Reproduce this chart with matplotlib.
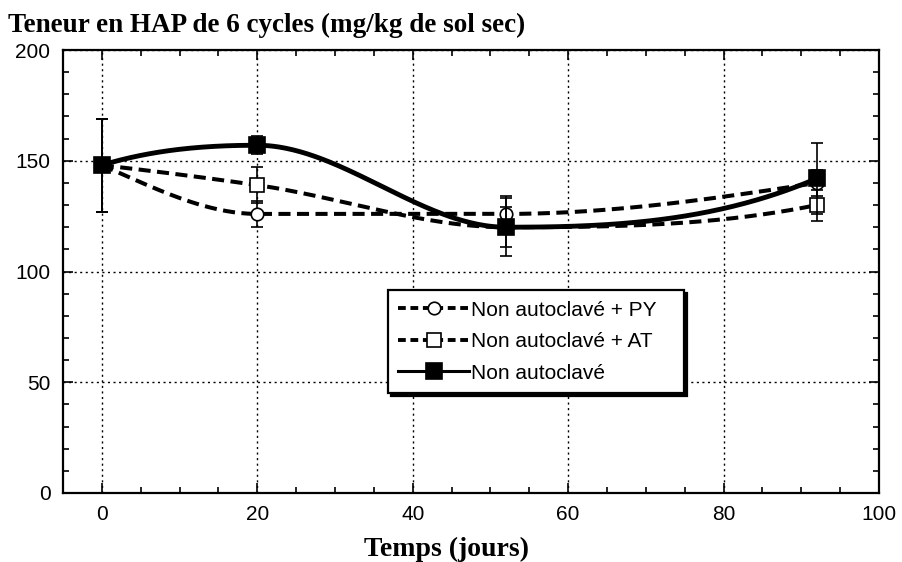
import numpy as np
import matplotlib.pyplot as plt
from matplotlib.ticker import MultipleLocator

# sampling days
days = [0, 20, 52, 92]

# HAP 6 cycles content (mg/kg)
py_vals = [148, 126, 126, 140]
at_vals = [148, 139, 120, 130]
non_vals = [148, 157, 120, 142]

# error bars (half width)
py_err = [21, 6, 8, 6]
at_err = [21, 8, 9, 7]
non_err = [21, 4, 13, 16]


def smooth(x, y, n=300):
    # monotone piecewise cubic (pchip) through the measured points
    x = np.asarray(x, float)
    y = np.asarray(y, float)
    h = np.diff(x)
    d = np.diff(y) / h
    k = len(x)
    m = np.zeros(k)
    for i in range(1, k - 1):
        if d[i - 1] * d[i] > 0:
            w1 = 2 * h[i] + h[i - 1]
            w2 = h[i] + 2 * h[i - 1]
            m[i] = (w1 + w2) / (w1 / d[i - 1] + w2 / d[i])
    for i, a, b in [(0, 0, 1), (k - 1, k - 2, k - 3)]:
        hi, ho = h[a], h[b]
        di, do = d[a], d[b]
        s = ((2 * hi + ho) * di - hi * do) / (hi + ho)
        if s * di <= 0:
            s = 0
        elif di * do < 0 and abs(s) > 3 * abs(di):
            s = 3 * di
        m[i] = s
    xs = np.linspace(x[0], x[-1], n)
    idx = np.clip(np.searchsorted(x, xs) - 1, 0, k - 2)
    hh = h[idx]
    t = (xs - x[idx]) / hh
    ys = (2 * t**3 - 3 * t**2 + 1) * y[idx] + (t**3 - 2 * t**2 + t) * hh * m[idx] \
        + (-2 * t**3 + 3 * t**2) * y[idx + 1] + (t**3 - t**2) * hh * m[idx + 1]
    return xs, ys


plt.rcParams['font.family'] = ['Liberation Sans', 'DejaVu Sans']

fig = plt.figure(figsize=(9.02, 5.62), dpi=100)
ax = fig.add_axes([0.0698, 0.1228, 0.9047, 0.7882])

series = [
    (py_vals, py_err, 'o', 'white', (3, 1.6), 'Non autoclavé + PY   ', 9, 3),
    (at_vals, at_err, 's', 'white', (3, 1.6), 'Non autoclavé + AT', 10, 4),
    (non_vals, non_err, 's', 'black', None, 'Non autoclavé', 11, 5),
]

handles = []
for vals, err, mk, fc, dash, label, ms, z in series:
    xs, ys = smooth(days, vals)
    if dash:
        ax.plot(xs, ys, color='black', lw=2.9, dashes=dash, zorder=z)
    else:
        ax.plot(xs, ys, color='black', lw=3.5, zorder=z)
    ax.errorbar(days, vals, yerr=err, fmt='none', ecolor='black',
                elinewidth=1.2, capsize=4, capthick=1.2, zorder=z)
    ax.plot(days, vals, ls='none', marker=mk, ms=ms, mfc=fc, mec='black',
            mew=1.2, zorder=z + 0.5)
    h, = ax.plot([], [], color='black', lw=2.8 if dash else 2.2,
                 marker=mk, ms=ms, mfc=fc, mec='black', mew=1.2)
    if dash:
        h.set_dashes((2, 1.2))
    handles.append(h)

ax.set_xlim(-5, 100)
ax.set_ylim(0, 200)
ax.xaxis.set_major_locator(MultipleLocator(20))
ax.xaxis.set_minor_locator(MultipleLocator(5))
ax.yaxis.set_major_locator(MultipleLocator(50))
ax.yaxis.set_minor_locator(MultipleLocator(10))
ax.tick_params(which='both', direction='in', top=True, right=True,
               width=1.2, labelsize=15, pad=9)
ax.tick_params(which='major', length=7)
ax.tick_params(which='minor', length=4)
ax.grid(which='major', ls=(0, (1.5, 2.5)), color='black', lw=1)
for s in ax.spines.values():
    s.set_linewidth(1.6)

leg = ax.legend(handles, [s[5] for s in series], loc='upper left',
                bbox_to_anchor=(0.398, 0.458), borderaxespad=0,
                fontsize=15, fancybox=False,
                edgecolor='black', framealpha=1, handlelength=3.4,
                handletextpad=0.1, borderpad=0.5, labelspacing=0.6,
                shadow={'color': 'black', 'alpha': 1})
leg.get_frame().set_linewidth(1.6)

fig.text(0.009, 0.943, 'Teneur en HAP de 6 cycles (mg/kg de sol sec)',
         family='Liberation Serif', weight='bold', fontsize=19.5)
ax.set_xlabel('Temps (jours)', family='Liberation Serif', weight='bold',
              fontsize=20)
ax.xaxis.set_label_coords(0.47, -0.1)

fig.savefig('out.png', dpi=100)
